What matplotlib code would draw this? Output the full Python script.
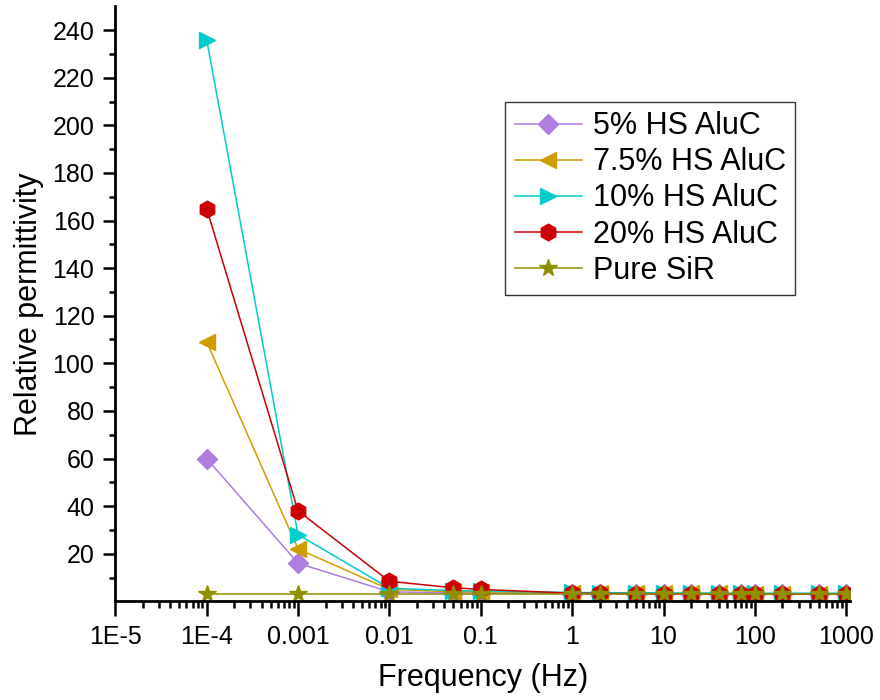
import numpy as np
import matplotlib
matplotlib.use('Agg')
import matplotlib.pyplot as plt
from matplotlib.ticker import FixedLocator, NullFormatter, LogLocator

plt.rcParams['font.family'] = ['Liberation Sans', 'DejaVu Sans']

freq = [1e-4, 0.001, 0.01, 0.05, 0.1, 1, 2, 5, 10, 20, 40, 70, 100, 200, 500, 1000]
eps_5 = [60, 16, 4, 3.5, 3.5, 3.2, 3.2, 3.1, 3.1, 3.0, 3.0, 3.0, 3.0, 3.0, 3.0, 3.0]
eps_75 = [109, 22, 5, 4, 4, 3.5, 3.4, 3.4, 3.3, 3.3, 3.3, 3.2, 3.2, 3.2, 3.2, 3.2]
eps_10 = [236, 28, 5.5, 4.5, 4.3, 3.7, 3.6, 3.6, 3.5, 3.5, 3.5, 3.4, 3.4, 3.4, 3.4, 3.4]
eps_20 = [165, 38, 8.4, 5.7, 5.0, 3.4, 3.3, 3.2, 3.2, 3.1, 3.0, 3.0, 3.0, 3.0, 3.0, 3.0]
eps_sir = [3.2, 3.2, 3.2, 3.2, 3.2, 3.2, 3.2, 3.2, 3.2, 3.2, 3.2, 3.2, 3.2, 3.2, 3.2, 3.2]

xticks = [1e-5, 1e-4, 1e-3, 1e-2, 1e-1, 1, 10, 100, 1000]
xticklabels = ['1E-5', '1E-4', '0.001', '0.01', '0.1', '1', '10', '100', '1000']

fig = plt.figure(figsize=(8.8, 7.0), dpi=100)
ax = fig.add_axes([0.131, 0.141, 0.835, 0.850])

series = [
    (eps_5, '5% HS AluC', '#B07CE0', 'D', 10),
    (eps_75, '7.5% HS AluC', '#D09C00', '<', 12),
    (eps_10, '10% HS AluC', '#00CCCC', '>', 12),
    (eps_20, '20% HS AluC', '#CC0000', 'h', 12),
    (eps_sir, 'Pure SiR', '#8F8F00', '*', 13),
]
for vals, lab, col, mk, ms in series:
    ax.plot(freq, vals, color=col, marker=mk, markersize=ms, lw=1.1,
            markeredgecolor=col, label=lab)

ax.set_xscale('log')
ax.set_xlim(1e-5, 1100)
ax.set_ylim(0, 250)

ax.xaxis.set_major_locator(FixedLocator(xticks))
ax.set_xticklabels(xticklabels)
ax.xaxis.set_minor_locator(LogLocator(base=10, subs=np.arange(2, 10), numticks=20))
ax.xaxis.set_minor_formatter(NullFormatter())
ax.set_yticks(np.arange(20, 241, 20))
ax.set_yticks(np.arange(10, 250, 20), minor=True)

for s in ['top', 'right']:
    ax.spines[s].set_visible(False)
for s in ['left', 'bottom']:
    ax.spines[s].set_linewidth(2)

ax.tick_params(axis='x', which='major', direction='out', length=11, width=1.8,
               labelsize=18, pad=6)
ax.tick_params(axis='x', which='minor', direction='out', length=5, width=1.8)
ax.tick_params(axis='y', which='major', direction='out', length=9, width=1.8,
               labelsize=18, pad=6)
ax.tick_params(axis='y', which='minor', direction='out', length=4, width=1.8)

ax.set_xlabel('Frequency (Hz)', fontsize=22, labelpad=10)
ax.set_ylabel('Relative permittivity', fontsize=22, labelpad=6)

leg = ax.legend(loc='upper left', bbox_to_anchor=(0.531, 0.839), fontsize=22,
                frameon=True, fancybox=False, edgecolor='black',
                handlelength=2.2, handletextpad=0.35, borderpad=0.3,
                labelspacing=0.2, borderaxespad=0)
leg.get_frame().set_linewidth(1)

plt.savefig('out.png', dpi=100)
plt.close()
